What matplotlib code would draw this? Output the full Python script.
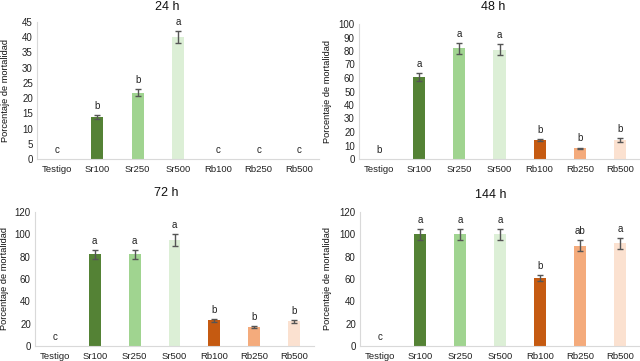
import matplotlib
matplotlib.use('Agg')
import matplotlib.pyplot as plt

plt.rcParams['font.family'] = ['Liberation Sans', 'DejaVu Sans']

labels = ['Testigo', 'Sr100', 'Sr250', 'Sr500', 'Rb100', 'Rb250', 'Rb500']
colors = ['#ffffff', '#548235', '#a0d490', '#dcefd6', '#c55a11', '#f4ab7c', '#fbe1d0']

titles = ['24 h', '48 h', '72 h', '144 h']

m24 = [0, 13.8, 21.8, 40, 0, 0, 0]
e24 = [0, 0.8, 1.1, 2.0, 0, 0, 0]
l24 = ['c', 'b', 'b', 'a', 'c', 'c', 'c']

m48 = [0, 61, 82, 81, 14, 8, 14]
e48 = [0, 3, 4, 4, 1, 0.5, 1.2]
l48 = ['b', 'a', 'a', 'a', 'b', 'b', 'b']

m72 = [0, 82, 82, 95, 23, 17, 22]
e72 = [0, 4, 4, 5, 1.5, 0.6, 1.5]
l72 = ['c', 'a', 'a', 'a', 'b', 'b', 'b']

m144 = [0, 100, 100, 100, 61, 90, 92]
e144 = [0, 5, 5, 5, 3, 5, 5]
l144 = ['c', 'a', 'a', 'a', 'b', 'ab', 'a']

means = [m24, m48, m72, m144]
errs = [e24, e48, e72, e144]
letters = [l24, l48, l72, l144]
ylims = [(45, 5), (100, 10), (120, 20), (120, 20)]

W, H = 640, 361
# axes boxes in pixels: left, top, right, bottom
boxes = [(37, 22, 319, 159), (359, 24, 640, 159),
         (35, 212, 314, 346), (360, 212, 640, 346)]
title_pos = [(167, 7), (493, 7), (166, 193), (491, 195)]
ylab_x = [6, 327, 5, 327]

fig = plt.figure(figsize=(6.4, 3.61), dpi=100)
for k in range(4):
    l, t, r, b = boxes[k]
    ax = fig.add_axes([l / W, 1 - b / H, (r - l) / W, (b - t) / H])
    x = list(range(len(labels)))
    ax.bar(x, means[k], 0.3, color=colors, zorder=2)
    idx = [i for i in x if errs[k][i] > 0]
    ax.errorbar(idx, [means[k][i] for i in idx], yerr=[errs[k][i] for i in idx],
                fmt='none', ecolor='#555555', elinewidth=1, capsize=2,
                capthick=1, zorder=3)
    for i in x:
        ax.annotate(letters[k][i], (i, means[k][i] + errs[k][i]),
                    xytext=(0, 6.5), textcoords='offset points',
                    ha='center', va='center', fontsize=7, color='#222222')
    top, step = ylims[k]
    ax.set_ylim(0, top)
    ax.set_yticks(range(0, top + 1, step))
    ax.set_xlim(-0.5, len(labels) - 0.5)
    ax.set_xticks(x)
    ax.set_xticklabels(labels)
    ax.tick_params(length=0, labelsize=7, colors='#222222', pad=3)
    ax.tick_params(axis='x', labelsize=6.8, pad=4)
    for s in ['top', 'right']:
        ax.spines[s].set_visible(False)
    ax.spines['left'].set_color('#d9d9d9')
    ax.spines['bottom'].set_color('#d9d9d9')
    fig.text(title_pos[k][0] / W, 1 - title_pos[k][1] / H, titles[k],
             ha='center', va='center', fontsize=9, color='#111111')
    fig.text(ylab_x[k] / W, 1 - (t + b) / 2 / H, 'Porcentaje de mortalidad',
             rotation=90, ha='center', va='center', fontsize=6.7, color='#111111')

fig.savefig('out.png', dpi=100)
